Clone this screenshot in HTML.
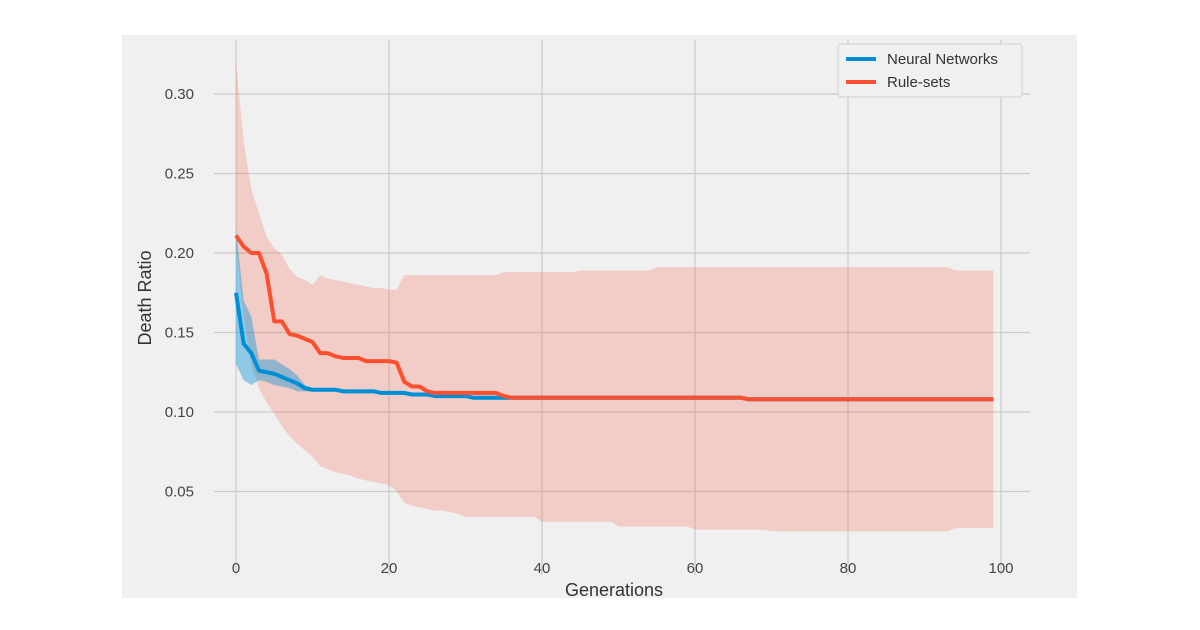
<!DOCTYPE html>
<html><head><meta charset="utf-8"><style>
body{margin:0;background:#fff;}
svg{display:block;font-family:"Liberation Sans","DejaVu Sans",sans-serif;}
</style></head><body>
<svg width="1200" height="630" viewBox="0 0 1200 630">
<rect x="0" y="0" width="1200" height="630" fill="#fff"/>
<rect x="122" y="35" width="955" height="563" fill="#f0f0f0"/>
<g id="grid"></g>
<g id="bands"></g>
<g id="lines"></g>
<g id="ticks"></g>
<text x="614" y="596" text-anchor="middle" font-size="18" fill="#333">Generations</text>
<text transform="translate(151,298) rotate(-90)" text-anchor="middle" font-size="18" fill="#333">Death Ratio</text>
<g>
<rect x="838" y="44" width="184" height="53" fill="#f0f0f0" stroke="#d0d0d0" rx="3"/>
<line x1="846" y1="59" x2="876" y2="59" stroke="#008fd5" stroke-width="4"/>
<text x="887" y="64" font-size="15" fill="#333">Neural Networks</text>
<line x1="846" y1="82" x2="876" y2="82" stroke="#fc4f30" stroke-width="4"/>
<text x="887" y="87" font-size="15" fill="#333">Rule-sets</text>
</g>
</svg>
<script>
function rep(v,n){return Array(n).fill(v);}
const generations = Array.from({length:100},(_,i)=>i);
const ruleMean = [0.211,0.204,0.200,0.200,0.187,0.157,0.157,0.149,0.148,0.146,0.144,0.137,0.137,0.135,0.134,0.134,0.134,0.132,0.132,0.132,0.132,0.131,0.119,0.116,0.116,0.113,0.112,0.112,0.112,0.112,0.112,0.112,0.112,0.112,0.112,0.110].concat(rep(0.109,31),rep(0.108,33));
const ruleUpper = [0.32,0.27,0.24,0.225,0.21,0.203,0.199,0.19,0.185,0.183,0.18,0.186,0.184,0.183,0.182,0.181,0.180,0.179,0.178,0.178,0.177,0.177,0.186].concat(rep(0.186,12),rep(0.188,10),rep(0.189,10),rep(0.191,39),rep(0.189,6));
const ruleLower = [0.205,0.16,0.13,0.115,0.106,0.099,0.091,0.085,0.08,0.076,0.072,0.066,0.064,0.062,0.061,0.06,0.058,0.057,0.056,0.055,0.054,0.05,0.043,0.041,0.04,0.039,0.038,0.038,0.037,0.036].concat(rep(0.034,10),rep(0.031,10),rep(0.028,10),rep(0.026,10),rep(0.025,24),rep(0.027,6));
const nnMean = [0.175,0.143,0.137,0.126,0.125,0.124,0.122,0.120,0.118,0.115,0.114,0.114,0.114,0.114,0.113,0.113,0.113,0.113,0.113,0.112,0.112,0.112,0.112,0.111,0.111,0.111,0.110,0.110,0.110,0.110,0.110,0.109,0.109,0.109,0.109,0.109].concat(rep(0.109,31),rep(0.108,33));
const nnUpper = [0.215,0.17,0.16,0.133,0.133,0.133,0.130,0.127,0.123,0.117].concat(nnMean.slice(10).map(v=>v+0.0012));
const nnLower = [0.13,0.12,0.117,0.12,0.119,0.117,0.116,0.115,0.113,0.113].concat(nnMean.slice(10).map(v=>v-0.0012));
const xTicks = [0,20,40,60,80,100];
const yTicks = [0.05,0.10,0.15,0.20,0.25,0.30];

const NS="http://www.w3.org/2000/svg";
function X(v){return 236+v*7.65;}
function Y(v){return 412-(v-0.10)*1590;}
function mk(tag,attrs,parent){const e=document.createElementNS(NS,tag);for(const k in attrs)e.setAttribute(k,attrs[k]);parent.appendChild(e);return e;}
const grid=document.getElementById('grid'),ticks=document.getElementById('ticks');
xTicks.forEach(t=>{
  const l=mk('line',{x1:X(t),x2:X(t),y1:40,y2:575,stroke:'#cbcbcb','stroke-width':1.2},grid);
  
  
  const tx=mk('text',{x:X(t),y:573,'text-anchor':'middle','font-size':15,fill:'#444'},ticks);
  tx.textContent=t;
  
  
});
yTicks.forEach(t=>{
  const l=mk('line',{x1:214,x2:1030,y1:Y(t),y2:Y(t),stroke:'#cbcbcb','stroke-width':1.2},grid);
  
  
  const tx=mk('text',{x:194,y:Y(t)+5,'text-anchor':'end','font-size':15,fill:'#444'},ticks);
  tx.textContent=t.toFixed(2);
  
  
});
function bandPath(up,lo){
  let d='M'+generations.map(g=>X(g)+','+Y(up[g])).join('L');
  d+='L'+generations.slice().reverse().map(g=>X(g)+','+Y(lo[g])).join('L')+'Z';
  return d;
}
function linePath(arr){return 'M'+generations.map(g=>X(g)+','+Y(arr[g])).join('L');}
const bands=document.getElementById('bands'),lines=document.getElementById('lines');
const rb=mk('path',{d:bandPath(ruleUpper,ruleLower),fill:'#fc4f30','fill-opacity':0.22},bands);


const nb=mk('path',{d:bandPath(nnUpper,nnLower),fill:'#008fd5','fill-opacity':0.4},bands);


const nl=mk('path',{d:linePath(nnMean),fill:'none',stroke:'#008fd5','stroke-width':4,'stroke-linejoin':'round'},lines);


const rl=mk('path',{d:linePath(ruleMean),fill:'none',stroke:'#fc4f30','stroke-width':4,'stroke-linejoin':'round'},lines);


</script>
</body></html>
